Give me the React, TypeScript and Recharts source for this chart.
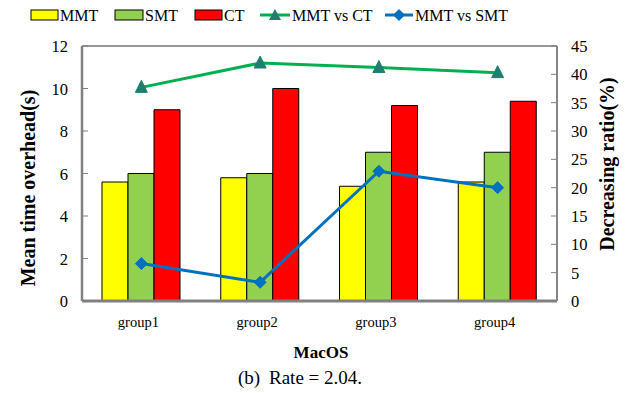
import React from "react";
import {
  ComposedChart,
  Bar,
  Line,
  XAxis,
  YAxis,
  ReferenceArea,
} from "recharts";

const categories = ["group1", "group2", "group3", "group4"];
const mmt = [5.6, 5.8, 5.4, 5.6];
const smt = [6.0, 6.0, 7.0, 7.0];
const ct = [9.0, 10.0, 9.2, 9.4];
const mmtVsCt = [37.7, 42.0, 41.2, 40.3];
const mmtVsSmt = [6.6, 3.3, 22.9, 20.0];
const leftTicks = [0, 2, 4, 6, 8, 10, 12];
const rightTicks = [0, 5, 10, 15, 20, 25, 30, 35, 40, 45];
const legendLabels = ["MMT", "SMT", "CT", "MMT vs CT", "MMT vs SMT"];

const data = categories.map((c, i) => ({
  name: c,
  MMT: mmt[i],
  SMT: smt[i],
  CT: ct[i],
  vsCT: mmtVsCt[i],
  vsSMT: mmtVsSmt[i],
}));

const FONT = "'Liberation Serif', 'Times New Roman', serif";
const AXIS = "#808080";
const C_Y = "#ffff00";
const C_G = "#92d050";
const C_R = "#ff0000";
const C_LG = "#00b050";
const C_TRI = "#1f7f6f";
const C_B = "#0070c0";

const LeftTick = (props: any) => {
  const { x, y, payload } = props;
  return (
    <g>
      <line x1={x} x2={x + 6} y1={y} y2={y} stroke={AXIS} strokeWidth={1} />
      <text x={x - 14} y={y} dy={6} textAnchor="end" fontFamily={FONT} fontSize={16.5} fill="#000">
        {payload.value}
      </text>
    </g>
  );
};

const RightTick = (props: any) => {
  const { x, y, payload } = props;
  return (
    <g>
      <line x1={x} x2={x - 6} y1={y} y2={y} stroke={AXIS} strokeWidth={1} />
      <text x={x + 14} y={y} dy={6} textAnchor="start" fontFamily={FONT} fontSize={16.5} fill="#000">
        {payload.value}
      </text>
    </g>
  );
};

const BottomTick = (props: any) => {
  const { x, y, payload } = props;
  return (
    <text x={x - 3} y={y + 26} textAnchor="middle" fontFamily={FONT} fontSize={14.5} fill="#000">
      {payload.value}
    </text>
  );
};

const Triangle = (props: any) => {
  const { cx, cy } = props;
  if (cx == null || cy == null) return null;
  return <polygon points={`${cx},${cy - 7} ${cx - 6},${cy + 5} ${cx + 6},${cy + 5}`} fill={C_TRI} stroke={C_TRI} />;
};

const Diamond = (props: any) => {
  const { cx, cy } = props;
  if (cx == null || cy == null) return null;
  return <polygon points={`${cx},${cy - 6} ${cx + 6},${cy} ${cx},${cy + 6} ${cx - 6},${cy}`} fill={C_B} stroke={C_B} />;
};

export default function App() {
  return (
    <div style={{ position: "relative", width: 640, height: 393, background: "#fff" }}>
      <style>{`body{margin:0}`}</style>
      <ComposedChart
        width={640}
        height={393}
        data={data}
        margin={{ top: 46, right: 0, left: 0, bottom: 62 }}
        barGap={0}
        barSize={26}
      >
        <ReferenceArea yAxisId="left" y1={0} y2={12} fill="none" stroke="#333" strokeWidth={1} ifOverflow="visible" />
        <XAxis
          dataKey="name"
          height={30}
          axisLine={{ stroke: AXIS, strokeWidth: 3 }}
          tickLine={false}
          tickSize={0}
          tickMargin={0}
          tick={<BottomTick />}
          interval={0}
        />
        <YAxis
          yAxisId="left"
          orientation="left"
          width={82}
          domain={[0, 12]}
          ticks={leftTicks}
          interval={0}
          axisLine={{ stroke: AXIS, strokeWidth: 2.5 }}
          tickLine={false}
          tickSize={0}
          tickMargin={0}
          tick={<LeftTick />}
        />
        <YAxis
          yAxisId="right"
          orientation="right"
          width={83}
          domain={[0, 45]}
          ticks={rightTicks}
          interval={0}
          axisLine={{ stroke: AXIS, strokeWidth: 1.5 }}
          tickLine={false}
          tickSize={0}
          tickMargin={0}
          tick={<RightTick />}
        />
        <Bar yAxisId="left" dataKey="MMT" fill={C_Y} stroke="#000" strokeWidth={1} isAnimationActive={false} />
        <Bar yAxisId="left" dataKey="SMT" fill={C_G} stroke="#000" strokeWidth={1} isAnimationActive={false} />
        <Bar yAxisId="left" dataKey="CT" fill={C_R} stroke="#000" strokeWidth={1} isAnimationActive={false} />
        <Line
          yAxisId="right"
          dataKey="vsCT"
          stroke={C_LG}
          strokeWidth={3}
          dot={<Triangle />}
          activeDot={false}
          isAnimationActive={false}
          type="linear"
        />
        <Line
          yAxisId="right"
          dataKey="vsSMT"
          stroke={C_B}
          strokeWidth={3}
          dot={<Diamond />}
          activeDot={false}
          isAnimationActive={false}
          type="linear"
        />
      </ComposedChart>
      <svg
        width={640}
        height={393}
        style={{ position: "absolute", left: 0, top: 0, pointerEvents: "none" }}
        fontFamily={FONT}
      >
        {/* legend */}
        <rect x={31} y={10} width={27} height={10} fill={C_Y} stroke="#000" strokeWidth={1} />
        <text x={60} y={21} fontSize={16}>{legendLabels[0]}</text>
        <rect x={115} y={10} width={28} height={10} fill={C_G} stroke="#000" strokeWidth={1} />
        <text x={145} y={21} fontSize={16}>{legendLabels[1]}</text>
        <rect x={195} y={10} width={27} height={10} fill={C_R} stroke="#000" strokeWidth={1} />
        <text x={224} y={21} fontSize={16}>{legendLabels[2]}</text>
        <line x1={260} x2={290} y1={15} y2={15} stroke={C_LG} strokeWidth={3} />
        <polygon points="275,9 269,20 281,20" fill={C_TRI} />
        <text x={292} y={21} fontSize={16}>{legendLabels[3]}</text>
        <line x1={385} x2={413} y1={15} y2={15} stroke={C_B} strokeWidth={3} />
        <polygon points="399,9 405,15 399,21 393,15" fill={C_B} />
        <text x={415} y={21} fontSize={16}>{legendLabels[4]}</text>
        {/* axis titles */}
        <text
          x={0}
          y={0}
          transform="translate(35,188) rotate(-90)"
          textAnchor="middle"
          fontSize={20}
          fontWeight="bold"
        >
          Mean time overhead(s)
        </text>
        <text
          x={0}
          y={0}
          transform="translate(614,164) rotate(-90)"
          textAnchor="middle"
          fontSize={20}
          fontWeight="bold"
        >
          Decreasing ratio(%)
        </text>
        <text x={321} y={358} textAnchor="middle" fontSize={17} fontWeight="bold">
          MacOS
        </text>
        <text x={238} y={384} textAnchor="start" fontSize={19}>
          (b)
        </text>
        <text x={269} y={384} textAnchor="start" fontSize={19}>
          Rate = 2.04.
        </text>
      </svg>
    </div>
  );
}
